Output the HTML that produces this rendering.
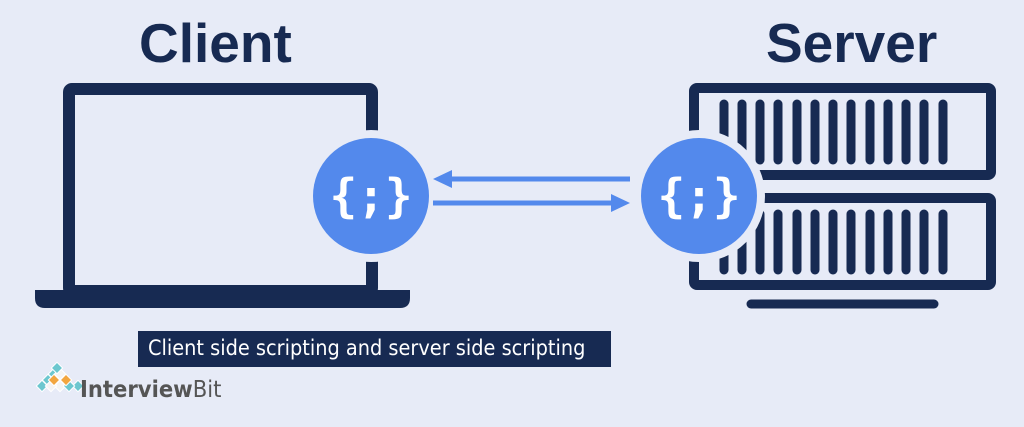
<!DOCTYPE html>
<html><head><style>
html,body{margin:0;padding:0;}
body{width:1024px;height:427px;background:#e7ebf7;position:relative;overflow:hidden;font-family:"Liberation Sans","DejaVu Sans",sans-serif;}
.t{position:absolute;font-weight:bold;color:#172a52;font-size:55px;}
.cap{position:absolute;left:138px;top:331px;width:473px;height:36px;background:#172a52;color:#fff;font-size:21.5px;line-height:36px;padding-left:10px;box-sizing:border-box;font-family:"DejaVu Sans Condensed","Liberation Sans",sans-serif;white-space:nowrap;}
</style></head><body>
<div class="t" style="left:139px;top:11px;">Client</div>
<div class="t" style="left:766px;top:11px;">Server</div>
<svg width="1024" height="427" style="position:absolute;left:0;top:0">
<rect x="69" y="89" width="303" height="202" rx="3" fill="none" stroke="#172a52" stroke-width="12"/>
<path d="M35 290 H410 V298 Q410 308 400 308 H45 Q35 308 35 298 Z" fill="#172a52"/>
<rect x="694" y="88" width="297" height="87" rx="3" fill="none" stroke="#172a52" stroke-width="10"/>
<rect x="694" y="198" width="297" height="87" rx="3" fill="none" stroke="#172a52" stroke-width="10"/>
<g stroke="#172a52" stroke-width="9" stroke-linecap="round">
<line x1="724" y1="104" x2="724" y2="160"/><line x1="742" y1="104" x2="742" y2="160"/><line x1="760" y1="104" x2="760" y2="160"/><line x1="778" y1="104" x2="778" y2="160"/><line x1="797" y1="104" x2="797" y2="160"/><line x1="815" y1="104" x2="815" y2="160"/><line x1="833" y1="104" x2="833" y2="160"/><line x1="851" y1="104" x2="851" y2="160"/><line x1="870" y1="104" x2="870" y2="160"/><line x1="888" y1="104" x2="888" y2="160"/><line x1="906" y1="104" x2="906" y2="160"/><line x1="924" y1="104" x2="924" y2="160"/><line x1="943" y1="104" x2="943" y2="160"/>
<line x1="724" y1="214" x2="724" y2="270"/><line x1="742" y1="214" x2="742" y2="270"/><line x1="760" y1="214" x2="760" y2="270"/><line x1="778" y1="214" x2="778" y2="270"/><line x1="797" y1="214" x2="797" y2="270"/><line x1="815" y1="214" x2="815" y2="270"/><line x1="833" y1="214" x2="833" y2="270"/><line x1="851" y1="214" x2="851" y2="270"/><line x1="870" y1="214" x2="870" y2="270"/><line x1="888" y1="214" x2="888" y2="270"/><line x1="906" y1="214" x2="906" y2="270"/><line x1="924" y1="214" x2="924" y2="270"/><line x1="943" y1="214" x2="943" y2="270"/>
<line x1="751" y1="304" x2="934" y2="304"/>
</g>
<circle cx="371" cy="196" r="66" fill="#e7ebf7"/>
<circle cx="371" cy="196" r="58" fill="#5389ec"/>
<circle cx="699" cy="196" r="66" fill="#e7ebf7"/>
<circle cx="699" cy="196" r="58" fill="#5389ec"/>
<g font-family="DejaVu Sans Mono,Liberation Mono,monospace" font-weight="bold" font-size="46" fill="#fff" text-anchor="middle">
<text x="371" y="212">{;}</text>
<text x="699" y="212">{;}</text>
</g>
<g stroke="#5389ec" stroke-width="5" fill="#5389ec">
<line x1="630" y1="179" x2="450" y2="179"/>
<line x1="433" y1="203" x2="612" y2="203"/>
</g>
<polygon points="433,179 452,170 452,188" fill="#5389ec"/>
<polygon points="630,203 611,194 611,212" fill="#5389ec"/>
<g stroke="#fff" stroke-width="1">
<rect x="50" y="370" width="8" height="8" fill="#6cc7cf" transform="rotate(45 54 374)"/>
<rect x="44" y="376" width="8" height="8" fill="#6cc7cf" transform="rotate(45 48 380)"/>
<rect x="38" y="382" width="8" height="8" fill="#6cc7cf" transform="rotate(45 42 386)"/>
<rect x="56" y="382" width="8" height="8" fill="#f4f4f4" transform="rotate(45 60 386)"/>
<rect x="74" y="382" width="8" height="8" fill="#6cc7cf" transform="rotate(45 78 386)"/>
<rect x="65" y="382" width="8" height="8" fill="#6cc7cf" transform="rotate(45 69 386)"/>
<rect x="47" y="382" width="8" height="8" fill="#f4f4f4" transform="rotate(45 51 386)"/>
<rect x="50" y="376" width="8" height="8" fill="#f2a640" transform="rotate(45 54 380)"/>
<rect x="62" y="376" width="8" height="8" fill="#f2a640" transform="rotate(45 66 380)"/>
<rect x="56" y="370" width="8" height="8" fill="#f4f4f4" transform="rotate(45 60 374)"/>
<rect x="53" y="364" width="8" height="8" fill="#6cc7cf" transform="rotate(45 57 368)"/>
</g>
<text x="80" y="397" font-family="DejaVu Sans Condensed,Liberation Sans,sans-serif" font-size="23.5" fill="#555" font-weight="bold">Interview<tspan font-weight="normal">Bit</tspan></text>
</svg>
<div class="cap">Client side scripting and server side scripting</div>
</body></html>
